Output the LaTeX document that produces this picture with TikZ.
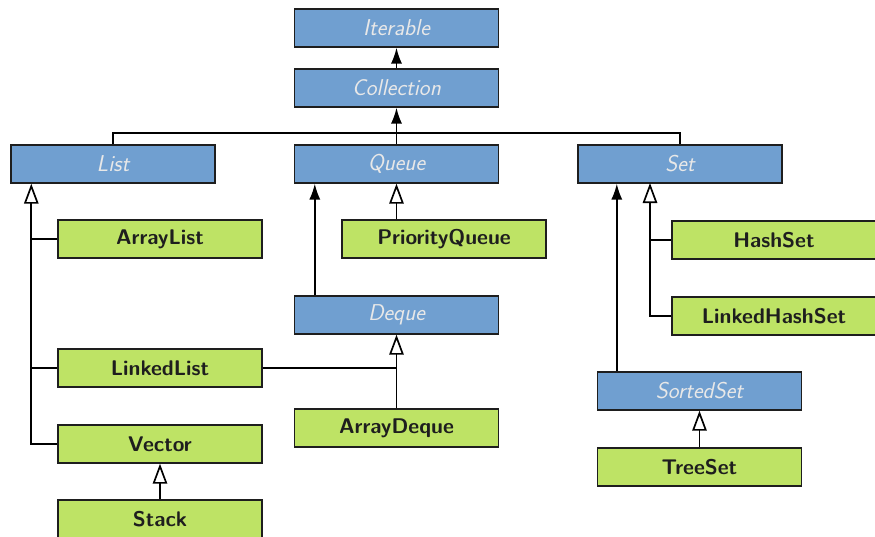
\documentclass[tikz,border=0pt]{standalone}
\usepackage{tikz}
\usetikzlibrary{arrows.meta, positioning, calc}

\definecolor{ifaceblue}{RGB}{112,159,208}
\definecolor{ifacetext}{RGB}{232,232,232}
\definecolor{implgreen}{RGB}{190,227,101}
\definecolor{boxline}{RGB}{30,30,30}

\begin{document}
\begin{tikzpicture}[
    iface/.style={draw=boxline, line width=1pt, fill=ifaceblue, text=ifacetext,
          minimum width=5.1cm, minimum height=0.95cm, inner sep=0pt,
          font=\sffamily\fontsize{16.3}{19}\selectfont\itshape},
    impl/.style={draw=boxline, line width=1pt, fill=implgreen, text=boxline,
          minimum width=5.1cm, minimum height=0.95cm, inner sep=0pt,
          font=\sffamily\fontsize{15.1}{18}\selectfont\bfseries},
    link/.style={line width=1.2pt},
    extends/.style={link, -{Latex[length=0.4cm, width=0.28cm]}},
    implements/.style={link, -{Triangle[open, length=0.5cm, width=0.36cm]}}
]
    \useasboundingbox (0,0) rectangle (21.875,-13.425);

    % interfaces
    \node[iface] (iter) at (9.9125,-0.7) {Iterable};
    \node[iface] (coll) at (9.9125,-2.2) {Collection};
    \node[iface] (list) at (2.825,-4.1) {List};
    \node[iface] (queue) at (9.9125,-4.1) {Queue};
    \node[iface] (set) at (17.0,-4.1) {Set};
    \node[iface] (deque) at (9.9125,-7.875) {Deque};
    \node[iface] (sortedset) at (17.4875,-9.775) {SortedSet};

    % classes
    \node[impl] (arraylist) at (4.0,-5.975) {ArrayList};
    \node[impl] (linkedlist) at (4.0,-9.2) {LinkedList};
    \node[impl] (vector) at (4.0,-11.1) {Vector};
    \node[impl] (stack) at (4.0,-12.975) {Stack};
    \node[impl] (pqueue) at (11.1,-5.975) {PriorityQueue};
    \node[impl] (arraydeque) at (9.9125,-10.7) {ArrayDeque};
    \node[impl] (hashset) at (19.35,-6.0) {HashSet};
    \node[impl] (linkedhashset) at (19.35,-7.9) {LinkedHashSet};
    \node[impl] (treeset) at (17.4875,-11.675) {TreeSet};

    % Collection and its sub-interfaces
    \draw[extends] (coll) -- (iter);
    \coordinate (bus) at (9.9125,-3.325);
    \draw[link] (list.north) |- (bus) -| (set.north);
    \draw[extends] (queue.north) -- (coll.south);

    % List side
    \coordinate (listjoin) at ($(list.south west)+(0.525,0)$);
    \draw[implements] (vector.west) -| (listjoin);
    \draw[link] (arraylist.west) -- (arraylist.west -| listjoin);
    \draw[link] (linkedlist.west) -- (linkedlist.west -| listjoin);
    \draw[implements] (stack) -- (vector);

    % Queue side
    \coordinate (dequeup) at ($(deque.north west)+(0.525,0)$);
    \draw[extends] (dequeup) -- (dequeup |- queue.south);
    \draw[implements] (pqueue.north -| queue.south) -- (queue.south);
    \draw[implements] (arraydeque) -- (deque);
    \draw[link] (linkedlist.east) -- (linkedlist.east -| deque.south);

    % Set side
    \coordinate (sortedup) at ($(sortedset.north west)+(0.5,0)$);
    \draw[extends] (sortedup) -- (sortedup |- set.south);
    \coordinate (setjoin) at (16.25,-4.575);
    \draw[implements] (linkedhashset.west) -| (setjoin);
    \draw[link] (hashset.west) -- (hashset.west -| setjoin);
    \draw[implements] (treeset) -- (sortedset);
\end{tikzpicture}
\end{document}
